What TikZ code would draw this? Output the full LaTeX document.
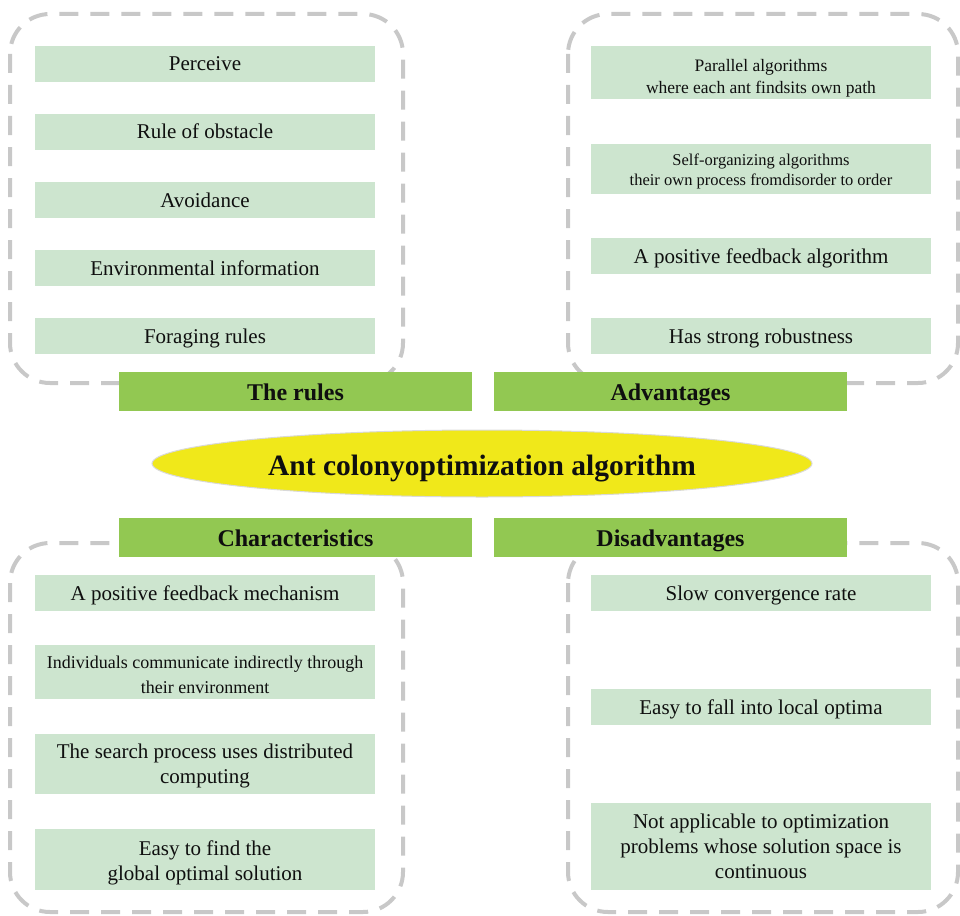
\documentclass[tikz,border=0pt]{standalone}
\usepackage{fontspec}
\setmainfont{Liberation Serif}
\usetikzlibrary{shapes.geometric}
\definecolor{itemgreen}{RGB}{205,229,207}
\definecolor{headgreen}{RGB}{146,200,82}
\definecolor{coreyellow}{RGB}{240,232,26}
\definecolor{dashgray}{RGB}{200,200,200}
\definecolor{inkblack}{RGB}{15,15,15}
% centred lines whose baseline is the first line
\newcommand{\cellstack}[1]{\begin{tabular}[t]{@{}c@{}}#1\end{tabular}}
\tikzset{
  groupframe/.style={draw=dashgray, line width=4pt, rounded corners=40pt,
    dash pattern=on 19pt off 12pt},
  item/.style={fill=itemgreen, inner sep=0pt, minimum width=340pt,
    text=inkblack, font=\fontsize{21}{25}\selectfont},
  oneline/.style={item, minimum height=36pt, text height=14pt, text depth=0pt},
  multiline/.style={item, text height=0pt, text depth=#1},
  header/.style={fill=headgreen, inner sep=0pt, minimum width=353pt,
    minimum height=39pt, text height=18pt, text depth=0pt, text=inkblack,
    font=\fontsize{24}{28}\selectfont\bfseries},
  core/.style={ellipse, fill=coreyellow, draw=black!15, line width=1pt,
    inner sep=0pt, minimum width=660pt, minimum height=67pt, text=inkblack,
    text height=23pt, text depth=0pt,
    font=\fontsize{29.5}{33}\selectfont\bfseries}
}
\begin{document}
\begin{tikzpicture}[x=1pt, y=-1pt]
\useasboundingbox (0,0) rectangle (960,915);

% dashed group frames
\draw[groupframe] (10,14) rectangle (403,383);
\draw[groupframe] (568,14) rectangle (958,383);
\draw[groupframe] (10,543) rectangle (403,912);
\draw[groupframe] (568,543) rectangle (958,912);

% the rules
\node[oneline] (r1) at (205,64) {Perceive};
\node[oneline] (r2) at (205,132) {Rule of obstacle};
\node[oneline] (r3) at (205,200) {Avoidance};
\node[oneline] (r4) at (205,268) {Environmental information};
\node[oneline] (r5) at (205,336) {Foraging rules};

% advantages
\node[multiline=1pt, minimum height=53pt, font=\fontsize{17.5}{21.5}\selectfont] (a1) at (761,72.5)
  {\cellstack{Parallel algorithms\\where each ant findsits own path}};
\node[multiline=8pt, minimum height=50pt, font=\fontsize{16.5}{20}\selectfont] (a2) at (761,169)
  {\cellstack{Self-organizing algorithms\\their own process fromdisorder to order}};
\node[oneline] (a3) at (761,256) {A positive feedback algorithm};
\node[oneline] (a4) at (761,336) {Has strong robustness};

% characteristics
\node[oneline] (c1) at (205,593) {A positive feedback mechanism};
\node[multiline=8pt, minimum height=54pt, font=\fontsize{18}{25}\selectfont] (c2) at (205,672)
  {\cellstack{Individuals communicate indirectly through\\their environment}};
\node[multiline=12pt, minimum height=60pt] (c3) at (205,764)
  {\cellstack{The search process uses distributed\\computing}};
\node[multiline=9pt, minimum height=61pt] (c4) at (205,859.5)
  {\cellstack{Easy to find the\\global optimal solution}};

% disadvantages
\node[oneline] (d1) at (761,593) {Slow convergence rate};
\node[oneline] (d2) at (761,707) {Easy to fall into local optima};
\node[multiline=37pt, minimum height=87pt] (d3) at (761,846.5)
  {\cellstack{Not applicable to optimization\\problems whose solution space is\\continuous}};

% headers
\node[header] (hr) at (295.5,391.5) {The rules};
\node[header] (ha) at (670.5,391.5) {Advantages};
\node[header] (hc) at (295.5,537.5) {Characteristics};
\node[header] (hd) at (670.5,537.5) {Disadvantages};

% central topic
\node[core] (aco) at (482,463.5) {Ant colonyoptimization algorithm};
\end{tikzpicture}
\end{document}
